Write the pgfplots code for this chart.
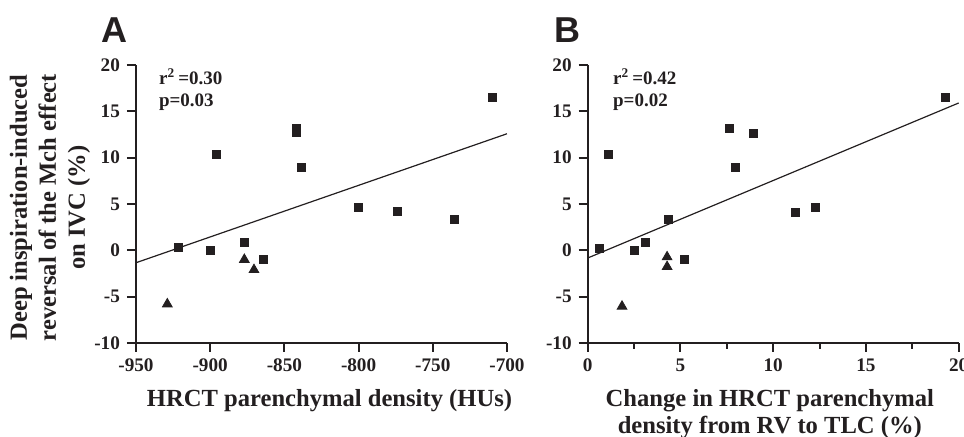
\documentclass[border=0pt]{standalone}
\usepackage{fontspec}
\setmainfont{Liberation Serif}
\newfontfamily\panelfont{Liberation Sans}
\usepackage{pgfplots}
\pgfplotsset{compat=1.18}
\definecolor{ink}{HTML}{231F20}

\pgfplotsset{
  panel/.style={
    scale only axis, width=185.5pt, height=139pt,
    axis lines*=left,
    axis line style={line width=1pt, ink},
    tick align=outside,
    major tick length=4.5pt, minor tick length=3pt,
    every tick/.style={line width=1pt, ink},
    ymin=-10, ymax=20,
    ytick={-10,-5,0,5,10,15,20},
    yticklabels={-10,-5,0,5,10,15,20},
    ticklabel style={font=\fontsize{9.6}{10}\selectfont\bfseries, text=ink},
    label style={font=\fontsize{12.3}{13.5}\selectfont\bfseries, text=ink},
    clip=false,
  },
  sq/.style={only marks, mark=square*, mark size=2pt, mark options={fill=ink, draw=ink}},
  tri/.style={only marks, mark=triangle*, mark size=2.8pt, mark options={fill=ink, draw=ink}},
  fit/.style={no marks, line width=0.6pt, ink},
}

\begin{document}
\begin{tikzpicture}
\path[use as bounding box] (0,0) rectangle (482pt,218.5pt);

% panel A
\begin{axis}[panel,
  at={(68pt,47pt)}, anchor=south west,
  xmin=-950, xmax=-700,
  xtick={-950,-900,-850,-800,-750,-700},
  xticklabels={-950,-900,-850,-800,-750,-700},
  xlabel={HRCT parenchymal density (HUs)},
  xlabel style={at={(axis description cs:0.5216,-0.230)}, anchor=base},
  ylabel={Deep inspiration-induced\\reversal of the Mch effect\\on IVC (\%)},
  ylabel style={at={(axis description cs:-0.232,0.487)}, anchor=center, align=center,
    font=\fontsize{12.3}{14.5}\selectfont\bfseries},
]
\addplot[sq] coordinates {
  (-921.7,0.36) (-900,0.03) (-895.9,10.3) (-877,0.82) (-864.4,-0.98)
  (-841.7,13.2) (-841.7,12.7) (-838.3,9.0) (-800,4.67) (-773.9,4.16)
  (-735.3,3.33) (-710.1,16.5)
};
\addplot[tri] coordinates {
  (-928.9,-5.8) (-877,-1.0) (-870.5,-2.1)
};
\addplot[fit] coordinates {(-950,-1.34) (-700,12.58)};
\node[anchor=base west, inner sep=0, font=\fontsize{9.5}{10}\selectfont\bfseries, text=ink]
  at (axis cs:-934.7,17.86) {r\textsuperscript{2}\,=0.30};
\node[anchor=base west, inner sep=0, font=\fontsize{9.5}{10}\selectfont\bfseries, text=ink]
  at (axis cs:-934.7,15.5) {p=0.03};
\node[font=\fontsize{18}{18}\selectfont\panelfont\bfseries, text=ink]
  at (axis description cs:-0.0593,1.126) {A};
\end{axis}

% panel B
\begin{axis}[panel,
  at={(293.85pt,47pt)}, anchor=south west,
  xmin=0, xmax=20,
  xtick={0,5,10,15,20},
  xticklabels={0,5,10,15,20},
  minor xtick={2.5,7.5,12.5,17.5},
  xlabel={Change in HRCT parenchymal\\density from RV to TLC (\%)},
  xlabel style={at={(axis description cs:0.491,-0.165)}, anchor=north, align=center, inner sep=0pt},
]
\addplot[sq] coordinates {
  (0.61,0.25) (1.11,10.3) (2.53,0.0) (3.13,0.82) (4.37,3.3) (5.21,-0.98)
  (7.62,13.15) (7.96,9.0) (8.95,12.65) (11.21,4.13) (12.29,4.67) (19.3,16.5)
};
\addplot[tri] coordinates {
  (1.85,-6.05) (4.28,-0.72) (4.28,-1.77)
};
\addplot[fit] coordinates {(0,-0.83) (20,15.9)};
\node[anchor=base west, inner sep=0, font=\fontsize{9.5}{10}\selectfont\bfseries, text=ink]
  at (axis cs:1.35,17.86) {r\textsuperscript{2}\,=0.42};
\node[anchor=base west, inner sep=0, font=\fontsize{9.5}{10}\selectfont\bfseries, text=ink]
  at (axis cs:1.35,15.5) {p=0.02};
\node[font=\fontsize{18}{18}\selectfont\panelfont\bfseries, text=ink]
  at (axis description cs:-0.0544,1.126) {B};
\end{axis}
\end{tikzpicture}
\end{document}
